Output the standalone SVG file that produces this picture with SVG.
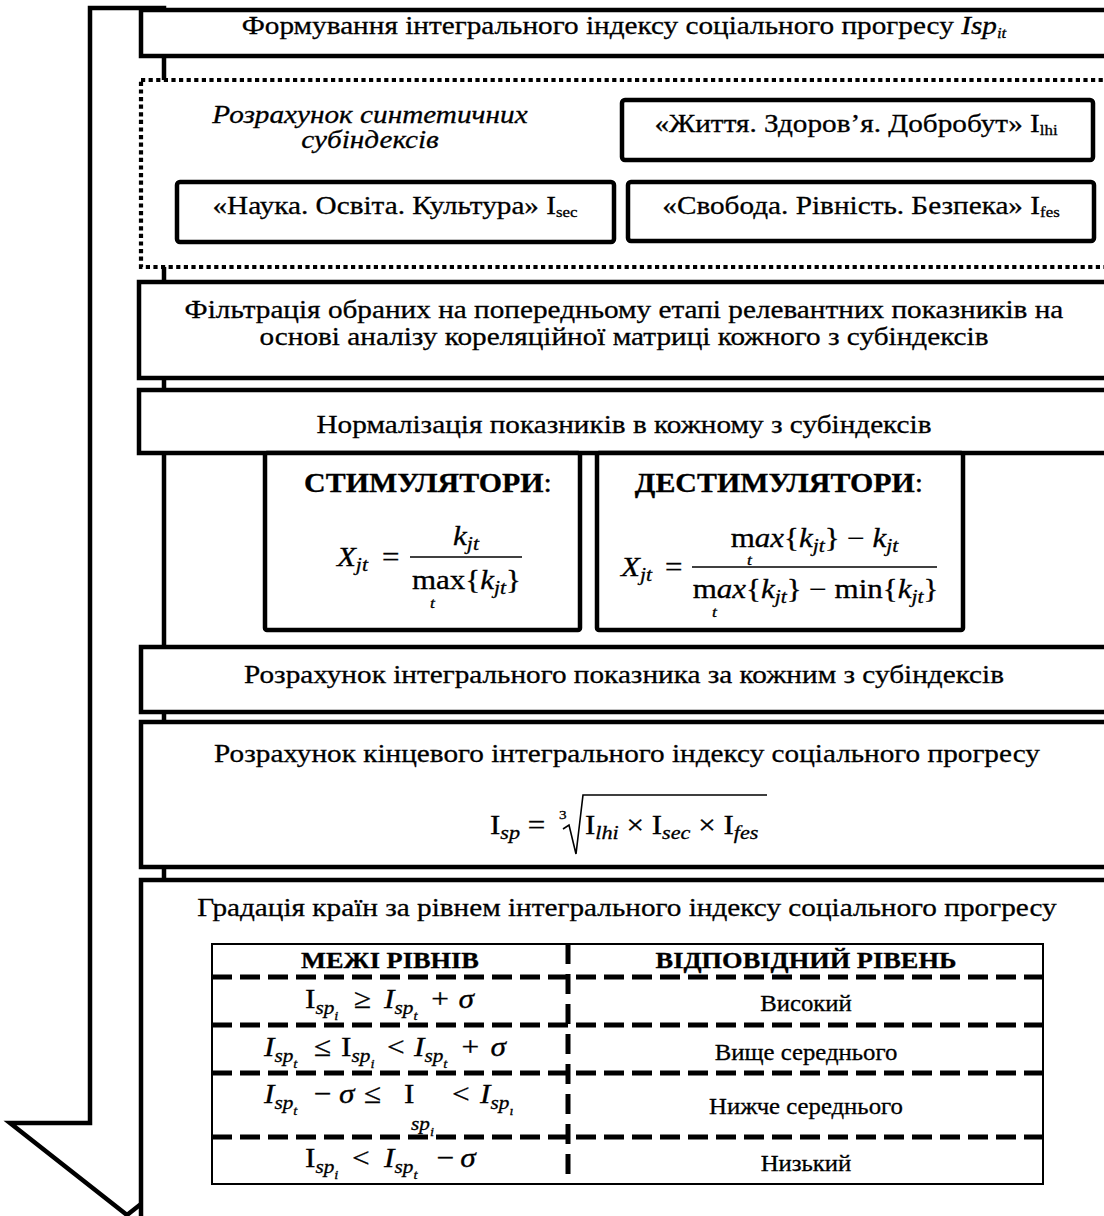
<svg xmlns="http://www.w3.org/2000/svg" width="1104" height="1216" viewBox="0 0 1104 1216">
<style>
.bx{fill:#fff;stroke:#000;stroke-width:4.5}
.dot{fill:#fff;stroke:#000;stroke-width:4.2;stroke-dasharray:4.2 3.4}
.t,.h,.m,.f,.tb,.th{font-family:"Liberation Serif","Times New Roman",serif;fill:#000;stroke:#000;stroke-width:0.3}
.t{font-size:26px}
.h{font-size:26.5px}
.m{font-size:26.5px}
.f{font-size:28px}
.c{text-anchor:middle}
.i{font-style:italic}
.b{font-weight:bold}
.sub{font-size:18.5px;font-style:italic}
.fs{font-size:19px;font-style:italic}
.ss{font-size:13px;font-style:italic}
.tt{font-size:15px;font-style:italic}
.tb{font-size:22.5px;text-anchor:middle}
.th{font-size:24px;font-weight:bold;text-anchor:middle}
.dh{stroke:#000;stroke-width:5;stroke-dasharray:20 8;fill:none}
.dv{stroke:#000;stroke-width:5;stroke-dasharray:20 10;fill:none}
.ln{stroke:#000;stroke-width:1.6;fill:none}
</style>

<g id="connectors">
  <path d="M90,8 H164 V1123 H244 L127,1215 L10,1123 H90 Z" fill="#fff" stroke="#000" stroke-width="4.5"/>
</g>

<g id="n-title">
  <rect class="bx" x="141" y="10" width="975" height="46"/>
  <text class="t c" x="624" y="34" transform="matrix(1.125 0 0 1 -78 0)">Формування інтегрального індексу соціального прогресу <tspan class="i">Isp</tspan><tspan class="i" style="font-size:15px" dy="4">it</tspan></text>
</g>

<g id="n-synthetic">
  <rect class="dot" x="141" y="80" width="975" height="187"/>
  <text class="t c i" x="370" y="123" transform="matrix(1.125 0 0 1 -46.25 0)">Розрахунок синтетичних</text>
  <text class="t c i" x="370" y="148" transform="matrix(1.125 0 0 1 -46.25 0)">субіндексів</text>
</g>

<g id="n-life">
  <rect class="bx" x="622" y="100" width="471" height="60" rx="3"/>
  <text class="t c" x="856" y="132" transform="matrix(1.125 0 0 1 -107 0)">«Життя. Здоров’я. Добробут» I<tspan style="font-size:15px" dy="3">lhi</tspan></text>
</g>

<g id="n-science">
  <rect class="bx" x="177" y="182" width="437" height="60" rx="3"/>
  <text class="t c" x="395" y="214" transform="matrix(1.125 0 0 1 -49.375 0)">«Наука. Освіта. Культура» I<tspan style="font-size:15px" dy="3">sec</tspan></text>
</g>

<g id="n-freedom">
  <rect class="bx" x="628" y="182" width="466" height="59" rx="3"/>
  <text class="t c" x="861" y="214" transform="matrix(1.125 0 0 1 -107.625 0)">«Свобода. Рівність. Безпека» I<tspan style="font-size:15px" dy="3">fes</tspan></text>
</g>

<g id="n-filter">
  <rect class="bx" x="139" y="282" width="977" height="96"/>
  <text class="t c" x="624" y="318" transform="matrix(1.125 0 0 1 -78 0)">Фільтрація обраних на попередньому етапі релевантних показників на</text>
  <text class="t c" x="624" y="345" transform="matrix(1.125 0 0 1 -78 0)">основі аналізу кореляційної матриці кожного з субіндексів</text>
</g>

<g id="n-normalize">
  <rect class="bx" x="139" y="390" width="977" height="63"/>
  <text class="t c" x="624" y="433" transform="matrix(1.125 0 0 1 -78 0)">Нормалізація показників в кожному з субіндексів</text>
</g>

<g id="n-stim">
  <rect class="bx" x="265" y="453" width="315" height="177" rx="2"/>
  <text class="h c" x="428" y="492" transform="matrix(1.13 0 0 1 -55.64 0)"><tspan class="b">СТИМУЛЯТОРИ</tspan>:</text>
  <line class="ln" x1="410" y1="557" x2="522" y2="557"/>
  <g transform="scale(1.17 1)">
    <text class="m i" x="288" y="566">X<tspan class="sub" dy="5">jt</tspan></text>
    <text class="m" x="326.5" y="566">=</text>
    <text class="m i c" x="398.3" y="545">k<tspan class="sub" dy="5">jt</tspan></text>
    <text class="m c" x="398.7" y="589">max{<tspan class="i">k</tspan><tspan class="sub" dy="5">jt</tspan><tspan dy="-5">}</tspan></text>
    <text class="m tt" x="367.5" y="608">t</text>
  </g>
</g>

<g id="n-destim">
  <rect class="bx" x="597" y="453" width="366" height="177" rx="2"/>
  <text class="h c" x="779" y="492" transform="matrix(1.13 0 0 1 -101.27 0)"><tspan class="b">ДЕСТИМУЛЯТОРИ</tspan>:</text>
  <line class="ln" x1="692" y1="567" x2="937" y2="567"/>
  <g transform="scale(1.17 1)">
    <text class="m i" x="530.8" y="576">X<tspan class="sub" dy="5">jt</tspan></text>
    <text class="m" x="568.4" y="576">=</text>
    <text class="m c" x="696.2" y="547">m<tspan class="i">ax</tspan>{<tspan class="i">k</tspan><tspan class="sub" dy="5">jt</tspan><tspan dy="-5">} − </tspan><tspan class="i">k</tspan><tspan class="sub" dy="5">jt</tspan></text>
    <text class="m tt" x="638.5" y="565">t</text>
    <text class="m c" x="697" y="598">m<tspan class="i">ax</tspan>{<tspan class="i">k</tspan><tspan class="sub" dy="5">jt</tspan><tspan dy="-5">} − min{</tspan><tspan class="i">k</tspan><tspan class="sub" dy="5">jt</tspan><tspan dy="-5">}</tspan></text>
    <text class="m tt" x="608.5" y="617">t</text>
  </g>
</g>

<g id="n-integral">
  <rect class="bx" x="141" y="647" width="975" height="65"/>
  <text class="t c" x="624" y="683" transform="matrix(1.125 0 0 1 -78 0)">Розрахунок інтегрального показника за кожним з субіндексів</text>
</g>

<g id="n-final">
  <rect class="bx" x="141" y="722" width="975" height="145"/>
  <text class="t c" x="627" y="762" transform="matrix(1.125 0 0 1 -78.375 0)">Розрахунок кінцевого інтегрального індексу соціального прогресу</text>
  <path class="ln" d="M563,829 L569,825 L576,854 L583,795 H767"/>
  <g transform="scale(1.17 1)">
    <text class="m" x="418.8" y="834">I<tspan class="fs" dy="5">sp</tspan><tspan dy="-5"> =</tspan></text>
    <text class="m" x="477.8" y="819" style="font-size:13px">3</text>
    <text class="m" x="500" y="834">I<tspan class="fs" dy="5">lhi</tspan><tspan dy="-5"> × I</tspan><tspan class="fs" dy="5">sec</tspan><tspan dy="-5"> × I</tspan><tspan class="fs" dy="5">fes</tspan></text>
  </g>
</g>

<g id="n-gradation">
  <rect class="bx" x="141" y="880" width="975" height="345"/>
  <text class="t c" x="627" y="916" transform="matrix(1.125 0 0 1 -78.375 0)">Градація країн за рівнем інтегрального індексу соціального прогресу</text>
  <rect x="212" y="944" width="831" height="240" fill="#fff" stroke="#000" stroke-width="2"/>
  <path class="dh" d="M212,977 H1043 M212,1025 H1043 M212,1073 H1043 M212,1137 H1043"/>
  <path class="dv" d="M568,944 V1184"/>
  <text class="th" x="390" y="968" transform="matrix(1.1 0 0 1 -39 0)">МЕЖІ РІВНІВ</text>
  <text class="th" x="806" y="968" transform="matrix(1.1 0 0 1 -80.6 0)">ВІДПОВІДНИЙ РІВЕНЬ</text>
  <text class="tb" x="806" y="1011" transform="matrix(1.1 0 0 1 -80.6 0)">Високий</text>
  <text class="tb" x="806" y="1060" transform="matrix(1.1 0 0 1 -80.6 0)">Вище середнього</text>
  <text class="tb" x="806" y="1114" transform="matrix(1.1 0 0 1 -80.6 0)">Нижче середнього</text>
  <text class="tb" x="806" y="1171" transform="matrix(1.1 0 0 1 -80.6 0)">Низький</text>
  <g transform="scale(1.12 1)">
    <text class="f"><tspan x="272.3" y="1008">I</tspan><tspan class="fs" y="1014">sp</tspan><tspan class="ss" y="1020">i</tspan><tspan x="316.1" y="1008">≥</tspan><tspan class="i" x="342.9" y="1008">I</tspan><tspan class="fs" y="1014">sp</tspan><tspan class="ss" y="1020">t</tspan><tspan x="385" y="1008">+</tspan><tspan class="i" x="409.5" y="1008">σ</tspan></text>
    <text class="f"><tspan class="i" x="235.7" y="1056">I</tspan><tspan class="fs" y="1062">sp</tspan><tspan class="ss" y="1068">t</tspan><tspan x="280.4" y="1056">≤</tspan><tspan x="304.5" y="1056">I</tspan><tspan class="fs" y="1062">sp</tspan><tspan class="ss" y="1068">i</tspan><tspan x="345.5" y="1056">&lt;</tspan><tspan class="i" x="369.6" y="1056">I</tspan><tspan class="fs" y="1062">sp</tspan><tspan class="ss" y="1068">t</tspan><tspan x="412" y="1056">+</tspan><tspan class="i" x="438" y="1056">σ</tspan></text>
    <text class="f"><tspan class="i" x="235.7" y="1103">I</tspan><tspan class="fs" y="1109">sp</tspan><tspan class="ss" y="1115">t</tspan><tspan x="280.4" y="1103">−</tspan><tspan class="i" x="302.7" y="1103">σ</tspan><tspan x="325" y="1103">≤</tspan><tspan x="360.7" y="1103">I</tspan><tspan class="fs" x="367" y="1130">sp</tspan><tspan class="ss" y="1136">i</tspan><tspan x="403.6" y="1103">&lt;</tspan><tspan class="i" x="428.6" y="1103">I</tspan><tspan class="fs" y="1109">sp</tspan><tspan class="ss" y="1115">ı</tspan></text>
    <text class="f"><tspan x="272.3" y="1167">I</tspan><tspan class="fs" y="1173">sp</tspan><tspan class="ss" y="1179">i</tspan><tspan x="314.3" y="1167">&lt;</tspan><tspan class="i" x="342.9" y="1167">I</tspan><tspan class="fs" y="1173">sp</tspan><tspan class="ss" y="1179">t</tspan><tspan x="390" y="1167">−</tspan><tspan class="i" x="411" y="1167">σ</tspan></text>
  </g>
</g>
</svg>
